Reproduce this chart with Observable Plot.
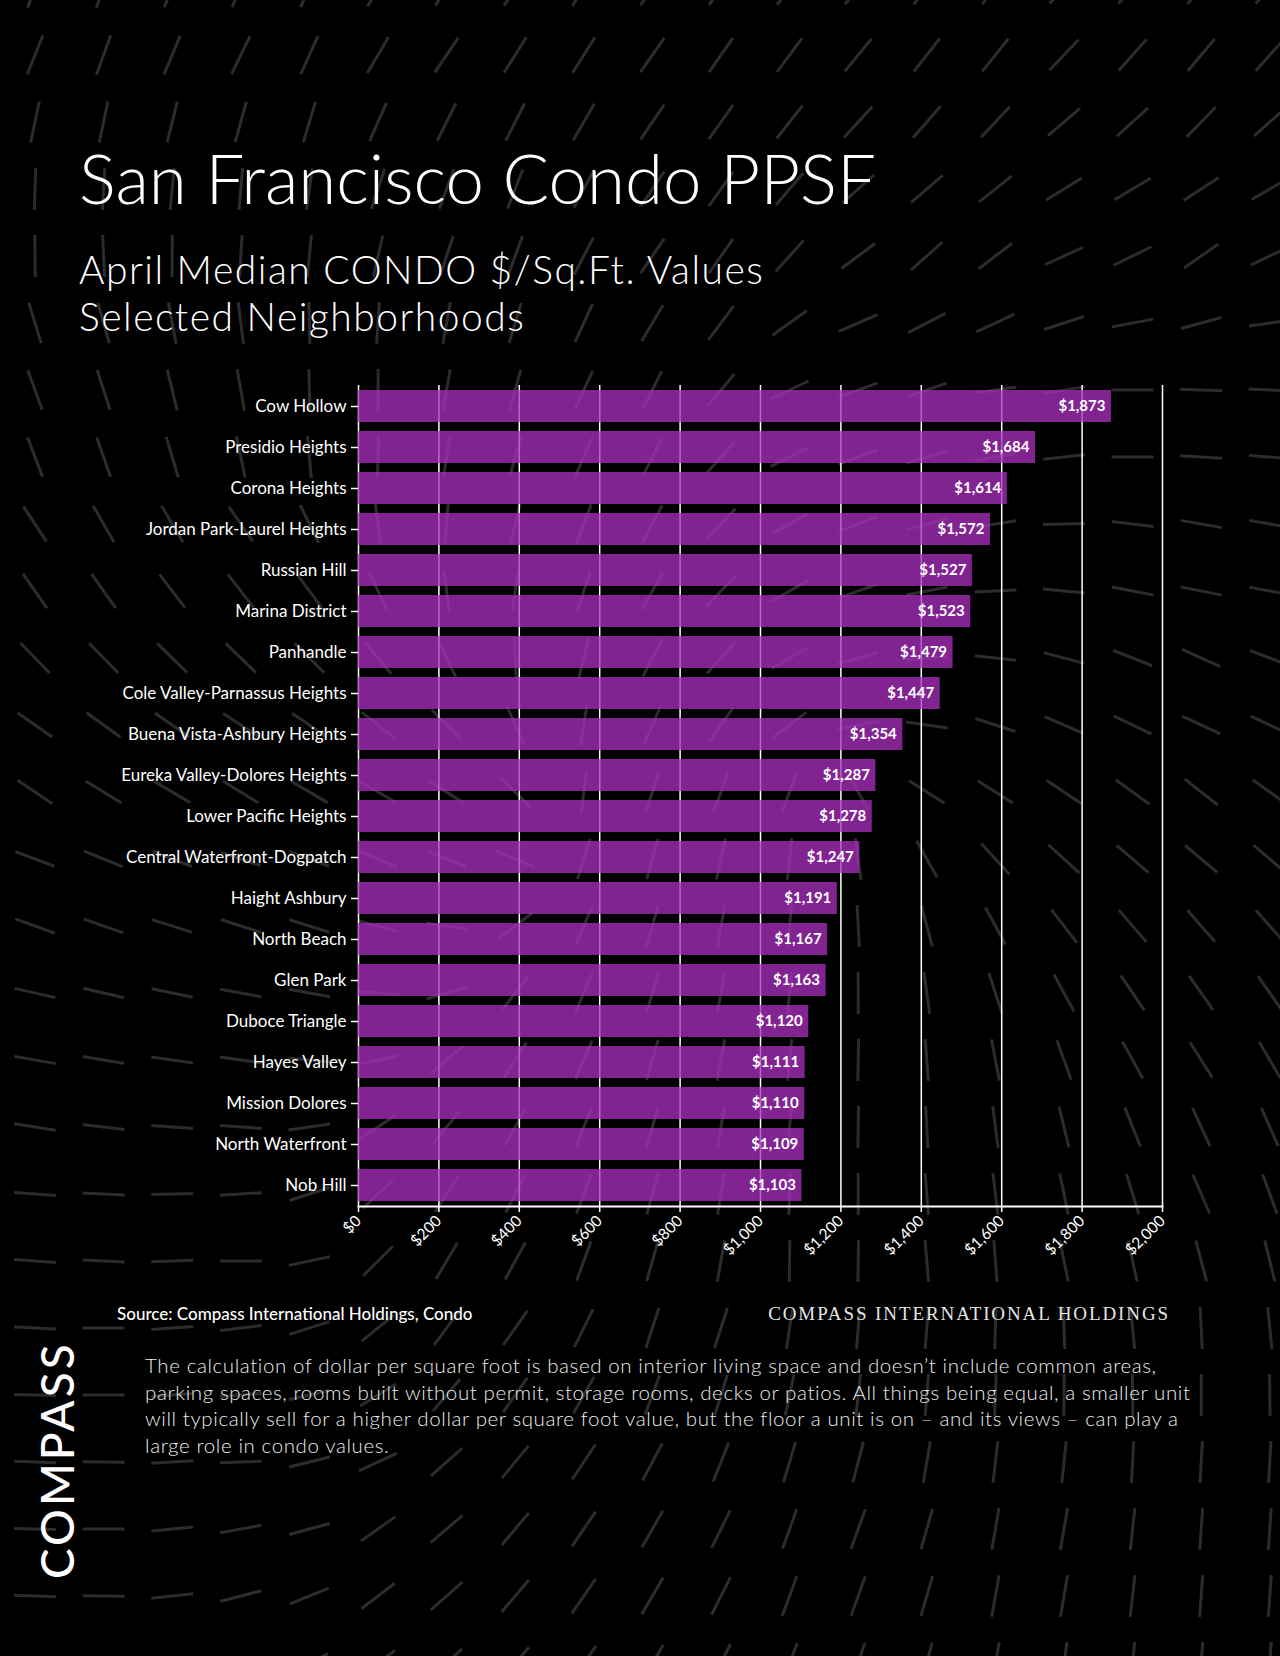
<!DOCTYPE html>
<html><head><meta charset="utf-8">
<script src="https://cdn.jsdelivr.net/npm/d3@7"></script>
<script src="https://cdn.jsdelivr.net/npm/@observablehq/plot@0.6"></script>
<style>
html,body{margin:0;padding:0;background:#000;}
#page{position:relative;width:1280px;height:1656px;overflow:hidden;background:#000;font-family:Lato,"Open Sans",sans-serif;color:#fff;}
#bg{position:absolute;left:0;top:0;}
#chart{position:absolute;left:0;top:365px;}
.t{position:absolute;white-space:nowrap;line-height:1;}
#title{left:79px;top:143px;font-size:69px;font-weight:300;}
.sub{left:79px;font-size:39px;font-weight:300;letter-spacing:1.5px;}
#sub1{top:249.5px;}
#sub2{top:297px;}
#source{left:117px;top:1305px;font-size:17px;font-weight:500;}
#holdings{right:110px;top:1304px;font-size:19px;font-family:"Liberation Serif",serif;letter-spacing:1.9px;color:#e6e6e6;}
#note{left:145px;top:1352px;font-size:20.5px;font-weight:300;letter-spacing:0.6px;line-height:26.7px;color:#ececec;}
#logo{left:0;top:0;font-size:46px;font-weight:500;letter-spacing:3px;transform-origin:0 0;transform:translate(34px,1579px) rotate(-90deg);}
</style>
</head><body>
<div id="page">
<svg id="bg"></svg>
<div id="chart"></div>
<div class="t" id="title">San Francisco Condo PPSF</div>
<div class="t sub" id="sub1">April Median CONDO $/Sq.Ft. Values</div>
<div class="t sub" id="sub2">Selected Neighborhoods</div>
<div class="t" id="source">Source: Compass International Holdings, Condo</div>
<div class="t" id="holdings">COMPASS INTERNATIONAL HOLDINGS</div>
<div class="t" id="note">The calculation of dollar per square foot is based on interior living space and doesn’t include common areas,<br>parking spaces, rooms built without permit, storage rooms, decks or patios. All things being equal, a smaller unit<br>will typically sell for a higher dollar per square foot value, but the floor a unit is on – and its views – can play a<br>large role in condo values.</div>
<div class="t" id="logo">COMPASS</div>
</div>
<script>
// ---- data ----
const neighborhoods = ["Cow Hollow","Presidio Heights","Corona Heights","Jordan Park-Laurel Heights","Russian Hill","Marina District","Panhandle","Cole Valley-Parnassus Heights","Buena Vista-Ashbury Heights","Eureka Valley-Dolores Heights","Lower Pacific Heights","Central Waterfront-Dogpatch","Haight Ashbury","North Beach","Glen Park","Duboce Triangle","Hayes Valley","Mission Dolores","North Waterfront","Nob Hill"];
const ppsf = [1873,1684,1614,1572,1527,1523,1479,1447,1354,1287,1278,1247,1191,1167,1163,1120,1111,1110,1109,1103];
const xTicks = [0,200,400,600,800,1000,1200,1400,1600,1800,2000];

const data = neighborhoods.map((n,i)=>({name:n, value:ppsf[i]}));
const money = d => "$" + d3.format(",")(d);

// ---- decorative background dashes ----
const ctrl = [
 [35,55,-68],[240,55,-64],[447,55,-56],[700,55,-55],[950,55,-52],[1200,55,-50],
 [35,190,92],[240,190,-85],[447,190,-70],[700,250,-55],[950,250,-42],[1200,250,-35],
 [1200,330,-15],[1000,330,-25],
 [35,390,70],[103,390,72],[240,390,80],[350,390,90],[450,390,-80],[590,390,-65],[870,385,-20],[1010,390,-8],[1135,395,0],[1200,395,2],[1270,395,3],
 [35,580,55],[240,580,52],[35,740,35],[240,740,33],[35,900,20],[240,900,18],[35,1060,10],[240,1060,8],
 [35,1250,4],[240,1250,0],[310,1250,-12],[35,1450,2],[240,1450,-2],[310,1500,-15],[35,1600,2],
 [1200,530,10],[1270,530,10],[1200,690,25],[1200,845,40],[1200,1000,55],[1200,1160,65],[1200,1260,75],[1200,1370,90],[1230,1500,-86],[1230,1620,-86],
 [420,1550,-40],[530,1550,-50],[630,1550,-60],[850,1550,-70],[1050,1550,-80],
 [370,1240,-45],[440,1240,-60],[580,1240,-70],[720,1240,-80],[800,1240,90],[930,1240,85],[1060,1240,78],
 [500,1330,-55],[700,1330,-72],[900,1330,-85],[1000,1330,-88]
];
function angleAt(x,y){
  let sx=0, sy=0;
  for (const [cx,cy,a] of ctrl){
    const d2=(x-cx)**2+(y-cy)**2+1;
    const w=1/Math.pow(d2,1.5);
    const r=2*a*Math.PI/180;
    sx+=w*Math.cos(r); sy+=w*Math.sin(r);
  }
  return Math.atan2(sy,sx)/2;
}
const bg = d3.select("#bg").attr("width",1280).attr("height",1656);
for (let r=-1;r<=25;r++){
  for (let c=-1;c<=19;c++){
    const x=35+68.6*c, y=55+67*r;
    const t=angleAt(x,y), h=21;
    bg.append("line").attr("x1",x-Math.cos(t)*h).attr("y1",y-Math.sin(t)*h)
      .attr("x2",x+Math.cos(t)*h).attr("y2",y+Math.sin(t)*h)
      .attr("stroke","#2c2c2c").attr("stroke-width",3);
  }
}

// ---- chart ----
const chart = Plot.plot({
  width: 1280, height: 920,
  marginLeft: 358, marginRight: 118, marginTop: 20, marginBottom: 79,
  style: {background:"transparent", color:"white", fontFamily:"Lato, sans-serif", overflow:"visible"},
  x: {domain:[0,2000]},
  y: {domain: neighborhoods, paddingInner:0.22, paddingOuter:0.11},
  marks: [
    Plot.gridX(xTicks, {stroke:"white", strokeOpacity:1, strokeWidth:1.5}),
    Plot.barX(data, {x:"value", y:"name", fill:"#a92fbf", fillOpacity:0.76}),
    Plot.text(data, {x:"value", y:"name", text:d=>money(d.value), textAnchor:"end", dx:-6, fill:"white", fontWeight:700, fontSize:15}),
    Plot.axisY({tickSize:7, tickPadding:5, fontSize:17, label:null, stroke:"white", strokeWidth:1.5}),
    Plot.axisX({ticks:xTicks, tickFormat:money, tickRotate:-45, tickSize:6, fontSize:15.5, label:null, strokeWidth:1.5}),
    Plot.frame({anchor:"bottom", stroke:"white", strokeWidth:2})
  ]
});
document.getElementById("chart").appendChild(chart);
</script>
</body></html>
